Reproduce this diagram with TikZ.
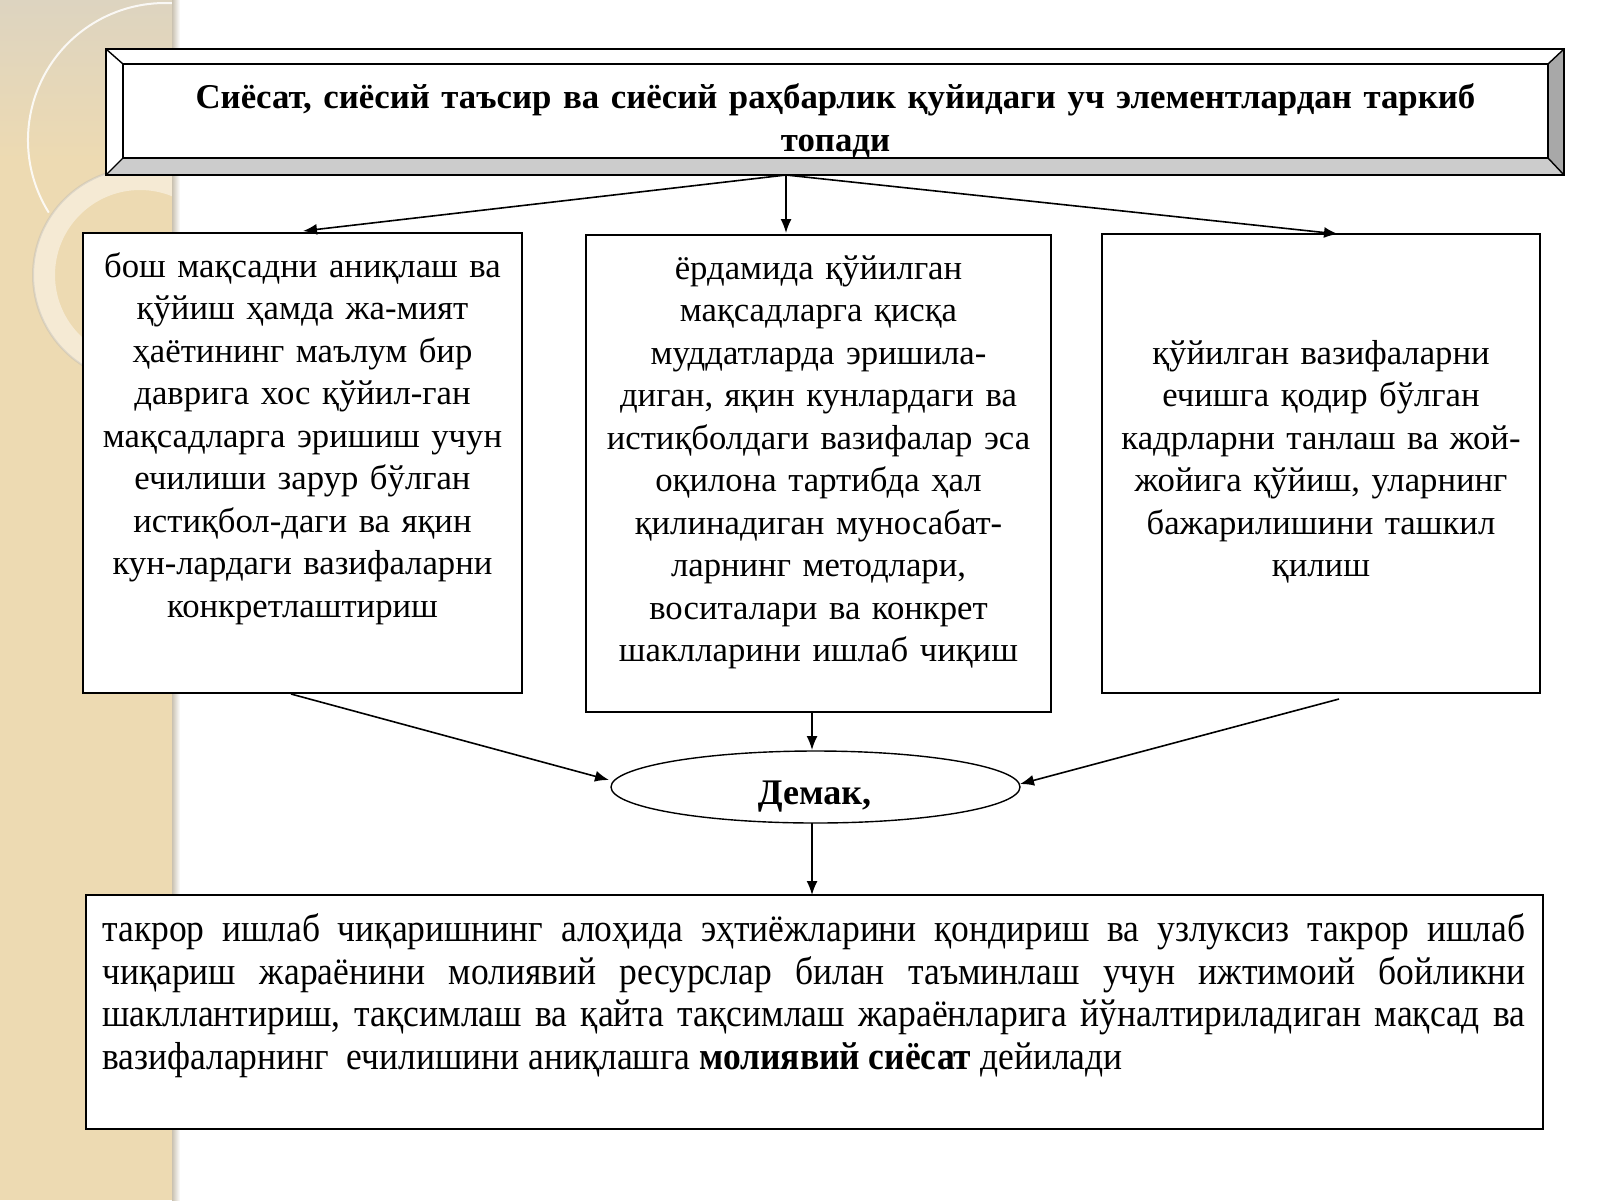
\documentclass[tikz,border=0pt]{standalone}
\usepackage{fontspec}
\setmainfont{Liberation Serif}
\newfontfamily\condfont[FakeStretch=0.91]{Liberation Serif}
\usetikzlibrary{arrows.meta,shapes.geometric,fit,calc}
\lineskiplimit=-100pt\relax
\definecolor{beige}{RGB}{237,218,178}
\definecolor{graybeige}{RGB}{221,212,192}
\definecolor{bevbot}{RGB}{204,204,204}
\definecolor{bevright}{RGB}{168,168,168}
\tikzset{
  boxline/.style={draw=black, line width=0.7pt},
  frame/.style={boxline, inner sep=0pt, fill=white},
  arr/.style={draw=black, line width=0.8pt, -{Latex[length=7pt,width=5.5pt]}},
  boxtext/.style={anchor=north, inner sep=0pt, text width=300pt, align=center,
    font=\fontsize{17.35}{21.25}\selectfont},
}
\begin{document}
\begin{tikzpicture}[x=0.5pt,y=-0.5pt]
\useasboundingbox (0,0) rectangle (1600,1200);
% ---------- background ----------
\fill[white] (0,0) rectangle (1600,1200);
\fill[beige] (0,0) rectangle (177,1200);
\begin{scope}
  \clip (0,0) rectangle (177,1200);
  \shade[top color=graybeige, bottom color=beige] (0,0) rectangle (177,160);
  \draw[white, opacity=0.85, line width=1pt] (165,140) ++(148:137) arc[start angle=148, end angle=274, radius=137];
  \draw[white, opacity=0.45, line width=11pt] (140,275) circle[radius=96];
  \draw[black!30, opacity=0.35, line width=1pt] (140,275) circle[radius=107];
\end{scope}
\shade[left color=beige!70!black!60, right color=white] (172,0) rectangle (180,1200);

% ---------- title box ----------
\node[frame, fit={(106,49)(1564,175)}] (title) {};
\fill[white] (106,49) -- (1564,49) -- (1548,64) -- (123,64) -- (123,158) -- (106,175) -- cycle;
\fill[bevbot] (106,175) -- (123,158) -- (1548,158) -- (1564,175) -- cycle;
\fill[bevright] (1564,49) -- (1548,64) -- (1548,158) -- (1564,175) -- cycle;
\draw[boxline] (106,49) rectangle (1564,175);
\draw[boxline] (123,64) rectangle (1548,158);
\draw[boxline] (106,49) -- (123,64) (1564,49) -- (1548,64)
  (106,175) -- (123,158) (1564,175) -- (1548,158);
\node[anchor=north, inner sep=0pt, text width=740pt, align=center,
  font=\bfseries\fontsize{17.4}{21.5}\selectfont]
  (titletext) at (835.5,68) {\rule{0pt}{20pt}Сиёсат, сиёсий таъсир ва сиёсий раҳбарлик қуйидаги уч элементлардан таркиб\\топади};

% ---------- three boxes ----------
\node[frame, fit={(83,233)(522,693)}] (b1) {};
\node[frame, fit={(586,235)(1051,712)}] (b2) {};
\node[frame, fit={(1102,234)(1540,693)}] (b3) {};

\node[boxtext] (t1) at (302.5,237) {\rule{0pt}{20pt}бош мақсадни аниқлаш ва\\
қўйиш ҳамда жа-мият\\
ҳаётининг маълум бир\\
даврига хос қўйил-ган\\
мақсадларга эришиш учун\\
ечилиши зарур бўлган\\
истиқбол-даги ва яқин\\
кун-лардаги вазифаларни\\
конкретлаштириш};

\node[boxtext] (t2) at (818.5,239) {\rule{0pt}{20pt}ёрдамида қўйилган\\
мақсадларга қисқа\\
муддатларда эришила-\\
диган, яқин кунлардаги ва\\
истиқболдаги вазифалар эса\\
оқилона тартибда ҳал\\
қилинадиган муносабат-\\
ларнинг методлари,\\
воситалари ва конкрет\\
шаклларини ишлаб чиқиш};

\node[boxtext] (t3) at (1321,324) {\rule{0pt}{20pt}қўйилган вазифаларни\\
ечишга қодир бўлган\\
кадрларни танлаш ва жой-\\
жойига қўйиш, уларнинг\\
бажарилишини ташкил\\
қилиш};

% ---------- ellipse ----------
\node[draw=black, line width=0.7pt, ellipse, fill=white, minimum width=204.5pt,
  minimum height=36pt, inner sep=0pt] (dem) at (815.5,787) {};
\node[inner sep=0pt, anchor=base, font=\bfseries\fontsize{18}{22}\selectfont]
  (demtext) at (814.5,804) {Демак,};

% ---------- bottom box ----------
\node[frame, fit={(86,895)(1543,1129)}] (bb) {};
\node[anchor=north west, inner sep=0pt, text width=711.5pt, align=justify,
  font=\condfont\fontsize{19.5}{21.3}\selectfont]
  (bt) at (102,901) {\rule{0pt}{20pt}\hbox to 711.5pt{такрор ишлаб чиқаришнинг алоҳида эҳтиёжларини қондириш ва узлуксиз такрор ишлаб}\newline
\hbox to 711.5pt{чиқариш жараёнини молиявий ресурслар билан таъминлаш учун ижтимоий бойликни}\newline
\hbox to 711.5pt{шакллантириш, тақсимлаш ва қайта тақсимлаш жараёнларига йўналтириладиган мақсад ва}\newline
вазифаларнинг \ ечилишини аниқлашга \textbf{молиявий сиёсат} дейилади};

% ---------- connectors ----------
\coordinate (tsrc) at (786,175);
\coordinate (b1in) at (303,231);
\coordinate (b2in) at (786,233);
\coordinate (b3in) at (1338,234);
\coordinate (b1out) at (291,694);
\coordinate (b2out) at (812,712);
\coordinate (b3out) at (1339,699);
\coordinate (dl) at (609,780);
\coordinate (dt) at (812,750);
\coordinate (dr) at (1020,784);
\coordinate (db) at (812,823);
\coordinate (bbin) at (812,895);

\draw[arr] (tsrc) -- (b1in);
\draw[arr] (tsrc) -- (b2in);
\draw[arr] (tsrc) -- (b3in);
\draw[arr] (b1out) -- (dl);
\draw[arr] (b2out) -- (dt);
\draw[arr] (b3out) -- (dr);
\draw[arr] (db) -- (bbin);
\end{tikzpicture}
\end{document}
